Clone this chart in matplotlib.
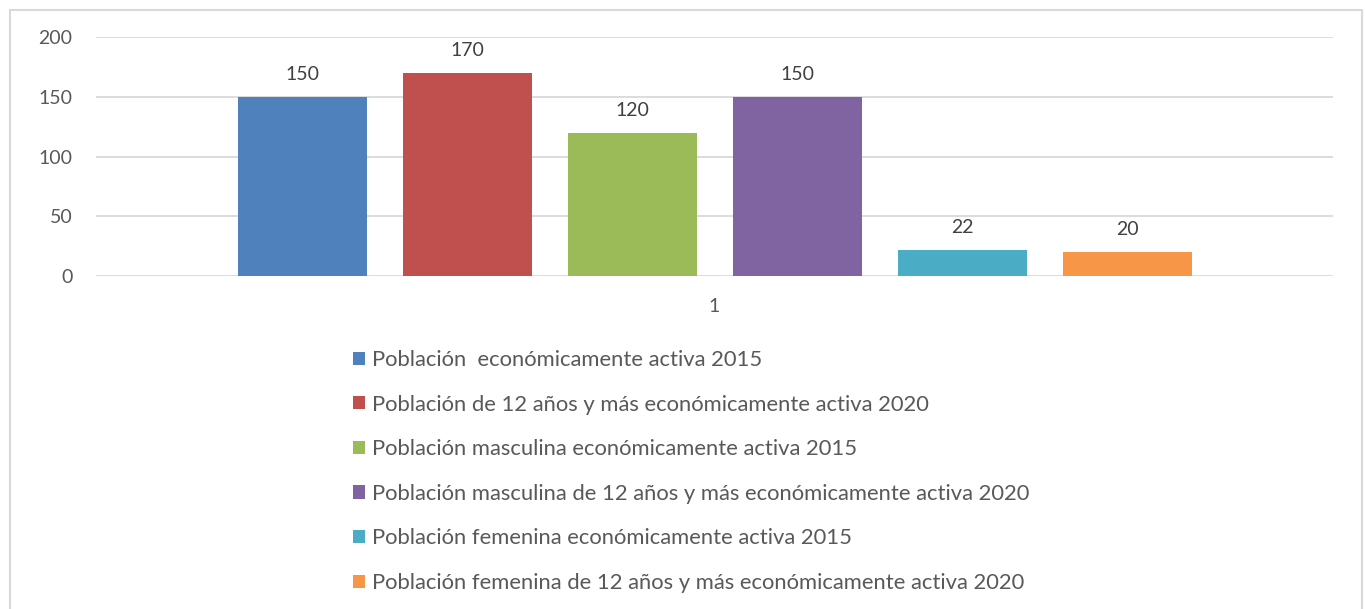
import matplotlib
matplotlib.use("Agg")
import matplotlib.pyplot as plt
from matplotlib.patches import Rectangle

series = [
    "Población  económicamente activa 2015",
    "Población de 12 años y más económicamente activa 2020",
    "Población masculina económicamente activa 2015",
    "Población masculina de 12 años y más económicamente activa 2020",
    "Población femenina económicamente activa 2015",
    "Población femenina de 12 años y más económicamente activa 2020",
]
values = [150, 170, 120, 150, 22, 20]
colors = ["#4F81BD", "#C0504D", "#9BBB59", "#8064A2", "#4BACC6", "#F79646"]
category = ["1"]
yticks = [0, 50, 100, 150, 200]

plt.rcParams["font.family"] = ["Lato", "DejaVu Sans"]

W, H = 1365, 609
fig = plt.figure(figsize=(W / 100, H / 100), dpi=100)
fig.patches.append(Rectangle((10 / W, -0.1), (1362 - 10) / W, 1.1 - 10 / H,
                             transform=fig.transFigure, fill=False,
                             edgecolor="#D9D9D9", linewidth=1.5))

ax = fig.add_axes([96 / W, 1 - 276 / H, 1237 / W, 239 / H])
pitch = 165 / 1237
bw = 129 / 1237
n = len(values)
handles = []
for i, (lab, v, c) in enumerate(zip(series, values, colors)):
    x = (i - (n - 1) / 2) * pitch
    b = ax.bar(x, v, width=bw, color=c, label=lab, zorder=3)
    handles.append(b)
    ax.annotate(str(v), (x, v), xytext=(0, 10), textcoords="offset points",
                ha="center", va="bottom", fontsize=14, color="#404040")

ax.set_xlim(-0.5, 0.5)
ax.set_ylim(0, 200)
ax.set_yticks(yticks)
ax.set_xticks([0])
ax.set_xticklabels(category)
ax.tick_params(axis="y", length=0, pad=17, labelsize=14, labelcolor="#595959")
ax.tick_params(axis="x", length=0, pad=16, labelsize=14, labelcolor="#595959")
ax.grid(axis="y", color="#D9D9D9", linewidth=1.3, zorder=0)
for s in ax.spines.values():
    s.set_visible(False)

leg = fig.legend(handles=handles, labels=series, loc="upper left",
                 bbox_to_anchor=(353 / W, 1 - 350 / H), frameon=False,
                 fontsize=15.8, labelcolor="#595959", handlelength=0.55,
                 handleheight=0.55, handletextpad=0.3, labelspacing=1.12,
                 borderpad=0, borderaxespad=0)

fig.savefig("out.png", dpi=100, facecolor="white")
